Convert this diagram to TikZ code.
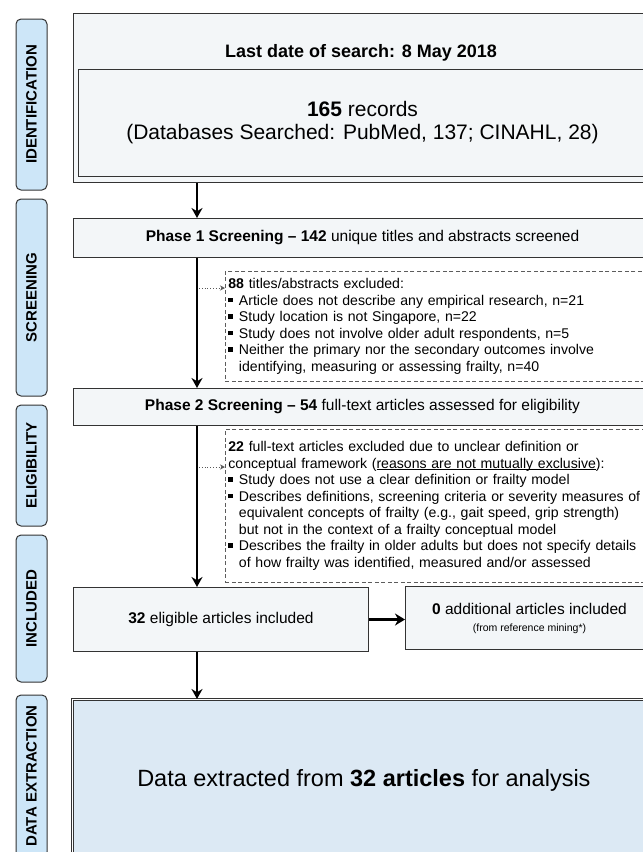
\documentclass[tikz,border=0pt]{standalone}
\usepackage{fontspec}
\setmainfont{Liberation Sans}
\usepackage{tikz}
\usetikzlibrary{arrows.meta,positioning}

\definecolor{stagefill}{HTML}{CDE6F8}
\definecolor{boxfill}{HTML}{F3F6F8}
\definecolor{datafill}{HTML}{DCE9F4}
\definecolor{edgegray}{HTML}{333333}

% small square bullet and hanging indent for the exclusion lists
\newcommand{\sqbullet}{\makebox[0.75em][l]{\rule[0.22em]{0.3em}{0.3em}}}
\newcommand{\hangin}{\hspace*{0.75em}}
% underline close to the baseline
\newlength{\ulwidth}
\newcommand{\ulbase}[1]{\settowidth{\ulwidth}{#1}\rlap{\rule[-1.8pt]{\ulwidth}{0.7pt}}#1}

\begin{document}
\begin{tikzpicture}[x=1pt, y=-1pt,
  stage/.style={draw=edgegray, fill=stagefill, rounded corners=5pt, line width=1pt,
    rotate=90, minimum height=31pt, inner sep=0pt, font=\fontsize{15}{18}\selectfont\bfseries},
  flowbox/.style={draw=edgegray, fill=boxfill, line width=1pt, inner sep=0pt, anchor=north west},
  exclbox/.style={draw=edgegray!80, dash pattern=on 4pt off 2.5pt, line width=0.8pt,
    anchor=north west, text width=430pt, inner xsep=3pt, align=left,
    font=\fontsize{14.1}{16.5}\selectfont},
  spinearrow/.style={line width=2.5pt, -{Stealth[length=10pt,width=11pt]}},
  sidearrow/.style={black!65, dotted, line width=0.8pt, shorten <=1pt, -{Stealth[length=5pt,width=5pt]}},
  ]

  % page frame (the figure is cut at the right and bottom)
  \useasboundingbox (0,0) rectangle (643,852);
  \clip (0,0) rectangle (643,852);

  % stage labels on the left
  \node[stage, minimum width=171pt] (lblid)   at (31.5,104.5) {IDENTIFICATION};
  \node[stage, minimum width=197pt] (lblscr)  at (31.5,297.5) {SCREENING};
  \node[stage, minimum width=121pt] (lblelig) at (31.5,465.5) {ELIGIBILITY};
  \node[stage, minimum width=147pt] (lblincl) at (31.5,608.5) {INCLUDED};
  \node[stage, minimum width=162pt] (lbldata) at (31.5,776)   {DATA EXTRACTION};

  % identification
  \node[flowbox, line width=1.3pt, minimum width=575pt, minimum height=169pt] (search) at (73,13) {};
  \node[font=\fontsize{18}{21}\selectfont\bfseries] (lastdate) at (361,53) {Last date of search: 8 May 2018};
  \node[flowbox, minimum width=568pt, minimum height=107pt, align=center,
    font=\fontsize{21}{23}\selectfont] (records) at (78,69)
    {\textbf{165} records\\(Databases Searched: PubMed, 137; CINAHL, 28)};

  % screening
  \node[flowbox, minimum width=578pt, minimum height=39pt, font=\fontsize{15.5}{18}\selectfont] (phase1) at (73,218)
    {\textbf{Phase 1 Screening – 142} unique titles and abstracts screened};
  \node[exclbox, minimum height=110pt] (excl1) at (225,271)
    {\textbf{88} titles/abstracts excluded:\\
     \sqbullet Article does not describe any empirical research, n=21\\
     \sqbullet Study location is not Singapore, n=22\\
     \sqbullet Study does not involve older adult respondents, n=5\\
     \sqbullet Neither the primary nor the secondary outcomes involve\\
     \hangin identifying, measuring or assessing frailty, n=40};

  % eligibility
  \node[flowbox, minimum width=578pt, minimum height=37pt, font=\fontsize{15.5}{18}\selectfont] (phase2) at (73,388)
    {\textbf{Phase 2 Screening – 54} full-text articles assessed for eligibility};
  \node[exclbox, minimum height=153pt] (excl2) at (225,429)
    {\textbf{22} full-text articles excluded due to unclear definition or\\
     conceptual framework (\ulbase{reasons are not mutually exclusive}):\\
     \sqbullet Study does not use a clear definition or frailty model\\
     \sqbullet Describes definitions, screening criteria or severity measures of\\
     \hangin equivalent concepts of frailty (e.g., gait speed, grip strength)\\
     \hangin but not in the context of a frailty conceptual model\\
     \sqbullet Describes the frailty in older adults but does not specify details\\
     \hangin of how frailty was identified, measured and/or assessed};

  % included
  \node[flowbox, minimum width=295pt, minimum height=64pt, font=\fontsize{15.5}{18}\selectfont] (incl) at (73,587)
    {\textbf{32} eligible articles included};
  \node[flowbox, minimum width=248pt, minimum height=63pt, align=center, font=\fontsize{15.5}{19}\selectfont] (addl) at (405,586)
    {\textbf{0} additional articles included\\[-2pt]{\fontsize{10.5}{12}\selectfont (from reference mining*)}};

  % data extraction
  \node[flowbox, fill=datafill, line width=0.8pt, double=white, double distance=1.3pt,
    minimum width=583pt, minimum height=162pt, font=\fontsize{23.5}{28}\selectfont] (extract) at (72,699)
    {Data extracted from \textbf{32 articles} for analysis};

  % main flow
  \coordinate (spine) at (197,0);
  \draw[spinearrow] (search.south -| spine) -- (phase1.north -| spine);
  \draw[spinearrow] (phase1.south -| spine) -- (phase2.north -| spine);
  \draw[spinearrow] (phase2.south -| spine) -- (incl.north -| spine);
  \draw[spinearrow] (incl.south -| spine) -- (extract.north -| spine);
  \draw[line width=3pt, -{Stealth[length=10pt,width=12pt]}] (incl.east) -- (incl.east -| addl.west);

  % side branches to the exclusions
  \coordinate (tap1) at (198,288);
  \coordinate (tap2) at (198,467);
  \draw[sidearrow] (tap1) -- (tap1 -| excl1.west);
  \draw[sidearrow] (tap2) -- (tap2 -| excl2.west);

\end{tikzpicture}
\end{document}
